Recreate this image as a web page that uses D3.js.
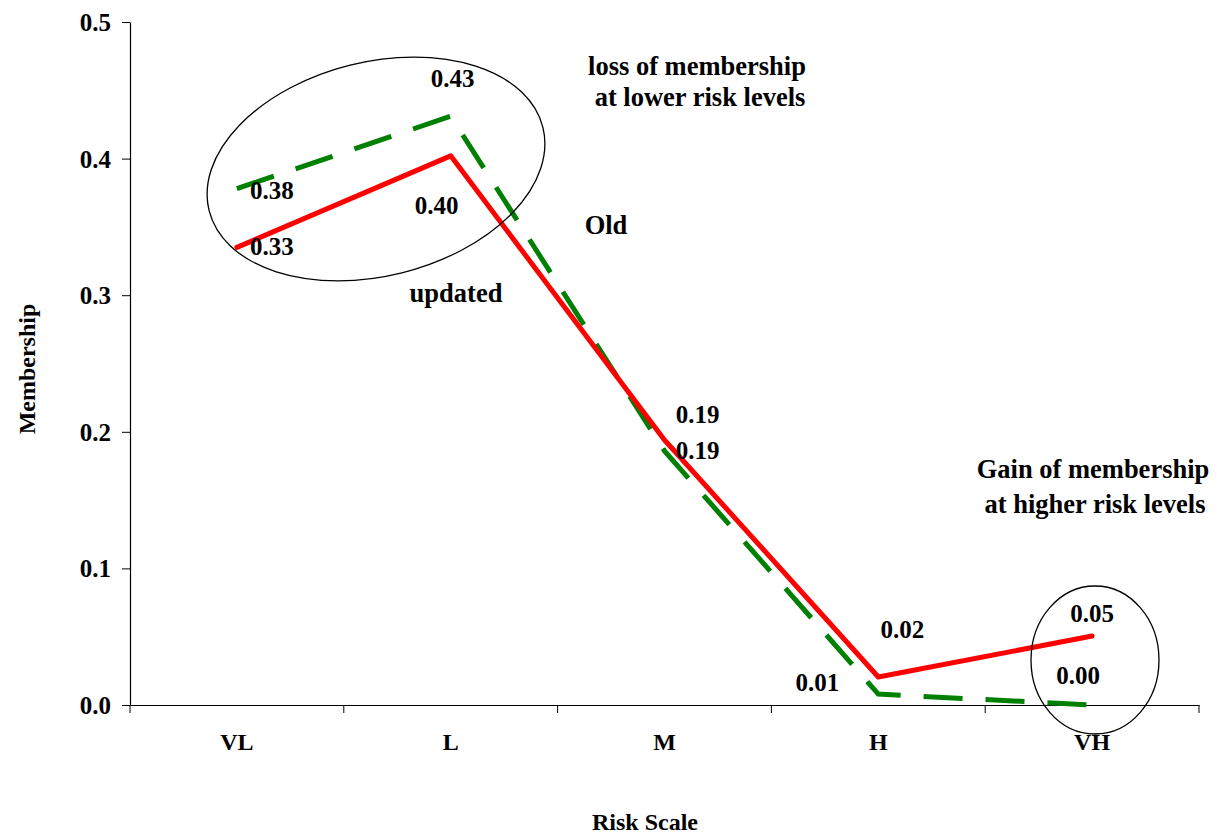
<!DOCTYPE html>
<html><head><meta charset="utf-8">
<script src="https://cdn.jsdelivr.net/npm/d3@7"></script>
<style>body{margin:0;background:#fff}svg{display:block}text{font-family:"Liberation Serif","Times New Roman",serif;font-weight:bold;fill:#000}</style>
</head><body><svg id="c" width="1224" height="836"></svg>
<script>
const categories = ["VL","L","M","H","VH"];
const updatedValues = [0.335, 0.402, 0.194, 0.0205, 0.0505];
const oldValues = [0.378, 0.431, 0.186, 0.008, 0.0];
const updatedLabels = ["0.33","0.40","0.19","0.02","0.05"];
const oldLabels = ["0.38","0.43","0.19","0.01","0.00"];
const yTicks = [0, 0.1, 0.2, 0.3, 0.4, 0.5];

// label offsets (px) from their points
const updatedOff = [[35,8],[-14,58],[33,-17],[24,-39],[0,-14]];
const oldOff = [[35,10],[2,-29],[33,8],[-61,-3],[-14,-21]];

const svg = d3.select("#c");
const L = 130, R = 1199, T = 22, B = 705;
const x = d3.scaleBand().domain(categories).range([L, R]);
const y = d3.scaleLinear().domain([0, 0.5]).range([B, T]);
const cx = d => x(d) + x.bandwidth()/2;

// y axis
const ya = svg.append("g").attr("transform", `translate(${L},0)`)
  .call(d3.axisLeft(y).tickValues(yTicks).tickFormat(d3.format(".1f")).tickSize(8).tickSizeOuter(0));
ya.select(".domain").attr("stroke","#000").attr("stroke-width",1.2);
ya.selectAll(".tick line").attr("stroke","#000");
ya.selectAll(".tick text").attr("font-size",25).attr("x",-19).attr("dy","0.34em")
  .style("font-family","Liberation Serif").style("font-weight","bold");

// x axis
const xa = svg.append("g").attr("transform", `translate(0,${B})`)
  .call(d3.axisBottom(x).tickSize(0).tickSizeOuter(0));
xa.select(".domain").attr("stroke","#000").attr("stroke-width",1.2);
xa.selectAll(".tick text").attr("font-size",24).attr("y",45).attr("dy","0")
  .style("font-family","Liberation Serif").style("font-weight","bold");
// boundary tick marks between categories
const bounds = categories.map(c => x(c)).concat([R]);
svg.append("g").selectAll("line").data(bounds).join("line")
  .attr("x1",d=>d).attr("x2",d=>d).attr("y1",B).attr("y2",B+8)
  .attr("stroke","#000").attr("stroke-width",1);

// lines
const line = d3.line().x((d,i)=>cx(categories[i])).y(d=>y(d));
svg.append("path").datum(oldValues).attr("d",line).attr("fill","none")
  .attr("stroke","#008000").attr("stroke-width",5).attr("stroke-dasharray","39,23");
svg.append("path").datum(updatedValues).attr("d",line).attr("fill","none")
  .attr("stroke","#ff0000").attr("stroke-width",5).attr("stroke-linecap","round").attr("stroke-linejoin","round");

// data labels
function labels(vals, labs, off){
  svg.append("g").selectAll("text").data(vals).join("text")
    .attr("x",(d,i)=>cx(categories[i])+off[i][0])
    .attr("y",(d,i)=>y(d)+off[i][1])
    .attr("text-anchor","middle").attr("font-size",25)
    .text((d,i)=>labs[i]);
}
labels(updatedValues, updatedLabels, updatedOff);
labels(oldValues, oldLabels, oldOff);

// ellipses
svg.append("ellipse").attr("cx",376).attr("cy",169).attr("rx",172).attr("ry",107)
  .attr("transform","rotate(-14,376,169)").attr("fill","none").attr("stroke","#000").attr("stroke-width",1.3);
svg.append("ellipse").attr("cx",1095).attr("cy",660).attr("rx",64).attr("ry",74)
  .attr("fill","none").attr("stroke","#000").attr("stroke-width",1.3);

// annotations
const ann = [
  ["loss of membership",697,75],["at lower risk levels",700,106],
  ["Old",606,234],["updated",456,302],
  ["Gain of membership",1093,478],["at higher risk levels",1095,513]
];
svg.append("g").selectAll("text").data(ann).join("text")
  .attr("x",d=>d[1]).attr("y",d=>d[2]).attr("text-anchor","middle").attr("font-size",26.5).text(d=>d[0]);

// axis titles
svg.append("text").attr("transform","translate(35,369) rotate(-90)").attr("text-anchor","middle")
  .attr("font-size",24).text("Membership");
svg.append("text").attr("x",645).attr("y",830).attr("text-anchor","middle").attr("font-size",24).text("Risk Scale");
</script></body></html>
